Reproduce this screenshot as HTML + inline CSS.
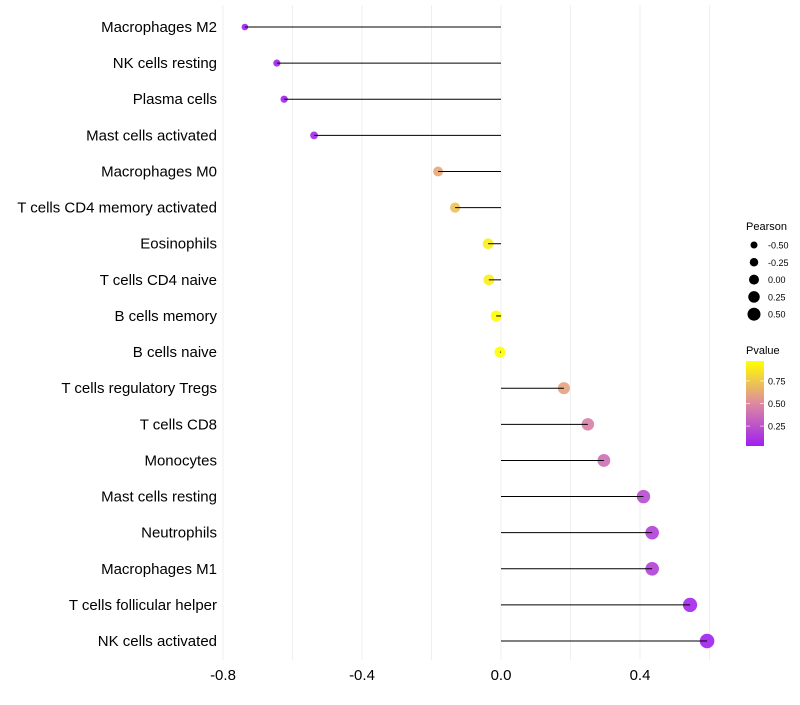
<!DOCTYPE html>
<html><head><meta charset="utf-8"><style>
body{margin:0;background:#fff;font-family:"Liberation Sans",sans-serif}
</style></head><body>
<svg id="c" width="800" height="700" xmlns="http://www.w3.org/2000/svg"></svg>
<script>
const categories=["Macrophages M2","NK cells resting","Plasma cells","Mast cells activated","Macrophages M0","T cells CD4 memory activated","Eosinophils","T cells CD4 naive","B cells memory","B cells naive","T cells regulatory  Tregs ","T cells CD8","Monocytes","Mast cells resting","Neutrophils","Macrophages M1","T cells follicular helper","NK cells activated"];
const pearson=[-0.737,-0.645,-0.624,-0.538,-0.181,-0.132,-0.037,-0.035,-0.014,-0.003,0.181,0.25,0.296,0.41,0.435,0.435,0.544,0.593];
const pvalue=[0.01,0.03,0.04,0.06,0.62,0.72,0.9,0.9,0.96,0.99,0.6,0.45,0.38,0.22,0.17,0.17,0.06,0.03];
const xTicks=[-0.8,-0.4,0.0,0.4];
const sizeLegend=[-0.5,-0.25,0,0.25,0.5];
const pTicks=[0.25,0.5,0.75];
const NS="http://www.w3.org/2000/svg",svg=document.getElementById('c');
const X=v=>501+v*347.5, Y=i=>27+i*36.12;
const R=p=>Math.max(1.8,5.5+3*p);
function mk(t,a,p){const e=document.createElementNS(NS,t);for(const k in a)e.setAttribute(k,a[k]);(p||svg).appendChild(e);return e;}
function lerp(a,b,t){return a.map((v,i)=>Math.round(v+(b[i]-v)*t));}
function col(p){const t=Math.min(1,Math.max(0,(p-0.03)/0.94));const A=[160,32,240],M=[220,138,160],B=[255,255,0];const c=t<0.5?lerp(A,M,t*2):lerp(M,B,(t-0.5)*2);return `rgb(${c})`;}
for(let v=-0.8;v<=0.61;v+=0.2){const l=mk('line',{x1:X(v),x2:X(v),y1:5,y2:660,stroke:'#efefef','stroke-width':1});}
xTicks.forEach(v=>{const t=mk('text',{x:X(v),y:680,'text-anchor':'middle','font-size':15,fill:'#000'});t.textContent=v.toFixed(1);});
categories.forEach((c,i)=>{
 const t=mk('text',{x:217,y:Y(i)+5,'text-anchor':'end','font-size':15,fill:'#000'});t.textContent=c;
 
 const d=mk('circle',{cx:X(pearson[i]),cy:Y(i),r:R(pearson[i]),fill:col(pvalue[i]),'fill-opacity':0.9});
 
 const l=mk('line',{x1:X(0),x2:X(pearson[i]),y1:Y(i),y2:Y(i),stroke:'#000','stroke-width':1});
 
});
let t=mk('text',{x:746,y:230,'font-size':11});t.textContent='Pearson';
sizeLegend.forEach((v,i)=>{const y=245+i*17.3;
 const c=mk('circle',{cx:754,cy:y,r:5+3*v,fill:'#000'});
 const s=mk('text',{x:768,y:y+3.5,'font-size':9});s.textContent=v.toFixed(2);});
t=mk('text',{x:746,y:354,'font-size':11});t.textContent='Pvalue';
const g=mk('linearGradient',{id:'pg',x1:0,y1:1,x2:0,y2:0},mk('defs',{}));
[0,0.25,0.5,0.75,1].forEach(o=>mk('stop',{offset:o,'stop-color':col(0.03+o*0.94)},g));
const bar=mk('rect',{x:746,y:361,width:18,height:85,fill:'url(#pg)'});
pTicks.forEach(v=>{const y=446-(v-0.03)/0.94*85;
 mk('line',{x1:746,x2:750,y1:y,y2:y,stroke:'#fff','stroke-opacity':0.6});mk('line',{x1:760,x2:764,y1:y,y2:y,stroke:'#fff','stroke-opacity':0.6});
 const s=mk('text',{x:768,y:y+3.5,'font-size':9});s.textContent=v.toFixed(2);});
</script>
</body></html>
